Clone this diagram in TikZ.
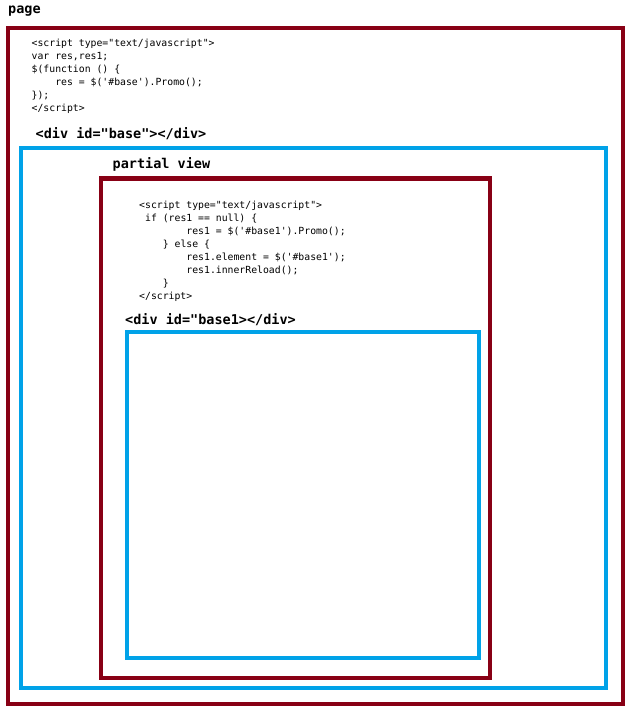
\documentclass[tikz,border=0pt]{standalone}
\usepackage{fontspec}
\setmonofont{DejaVu Sans Mono}
\usepackage{tikz}
\definecolor{pagered}{HTML}{880015}
\definecolor{divblue}{HTML}{00A2E8}

\begin{document}
\begin{tikzpicture}[x=1pt,y=-1pt]
			\tikzstyle{every node}=[inner sep=0pt,anchor=base west,align=left]
			\tikzstyle{codetext}=[font=\ttfamily\fontsize{9.8}{12.93}\selectfont]
			\tikzstyle{boxtitle}=[font=\ttfamily\bfseries\fontsize{13.5}{16}\selectfont]
			\tikzstyle{redbox}=[draw=pagered,line width=4.5pt]
			\tikzstyle{bluebox}=[draw=divblue,line width=4.5pt]
			\useasboundingbox (0,0) rectangle (632,714);
			\draw[redbox] (8,28) rectangle (623,704);
			\draw[bluebox] (21,148) rectangle (606,688);
			\draw[redbox] (101,178.5) rectangle (490,678);
			\draw[bluebox] (127,332) rectangle (479,658);
			\node[boxtitle] (page) at (8,14) {page};
			\node[codetext] (pagescript) at (31.5,111.2) {
				<script type="text/javascript">\\
				var res,res1;\\
				\$(function () \{\\
				\ \ \ \ res = \$('\#base').Promo();\\
				\});\\
				</script>
			};
			\node[boxtitle] (basediv) at (35.5,139) {<div id="base"></div>};
			\node[boxtitle] (partial) at (112.5,168) {partial view};
			\node[codetext] (partialscript) at (139,299) {
				<script type="text/javascript">\\
				\ if (res1 == null) \{\\
				\ \ \ \ \ \ \ \ res1 = \$('\#base1').Promo();\\
				\ \ \ \ \} else \{\\
				\ \ \ \ \ \ \ \ res1.element = \$('\#base1');\\
				\ \ \ \ \ \ \ \ res1.innerReload();\\
				\ \ \ \ \}\\
				</script>
			};
			\node[boxtitle] (base1div) at (125,324) {<div id="base1></div>};
		\end{tikzpicture}
\end{document}
